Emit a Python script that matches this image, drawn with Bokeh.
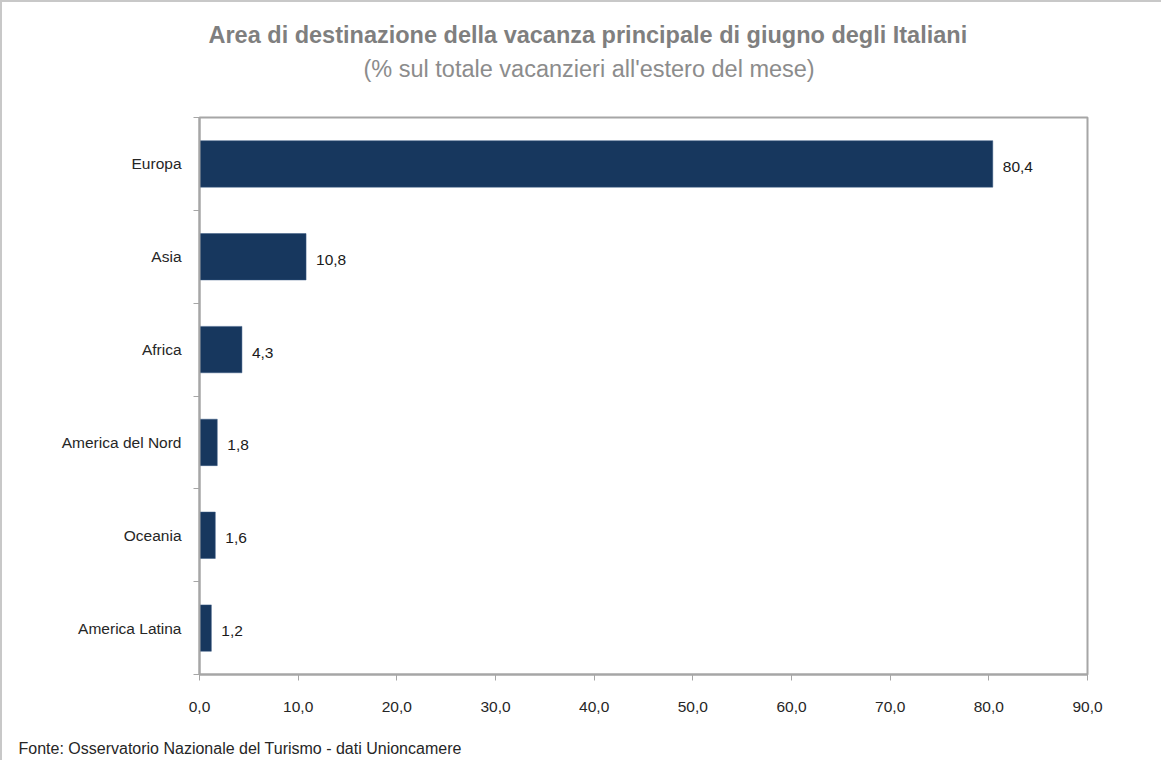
from bokeh.plotting import figure
from bokeh.models import Range1d, FixedTicker, Title, ColumnDataSource
from bokeh.embed import file_html
from bokeh.resources import INLINE

# ---- data ----
categories = ["Europa", "Asia", "Africa", "America del Nord", "Oceania", "America Latina"]
values = [80.4, 10.8, 4.3, 1.8, 1.6, 1.2]
value_labels = ["80,4", "10,8", "4,3", "1,8", "1,6", "1,2"]
x_ticks = [0, 10, 20, 30, 40, 50, 60, 70, 80, 90]
x_tick_labels = ["0,0", "10,0", "20,0", "30,0", "40,0", "50,0", "60,0", "70,0", "80,0", "90,0"]
title_text = "Area di destinazione della vacanza principale di giugno degli Italiani"
subtitle_text = "(% sul totale vacanzieri all'estero del mese)"
source_text = "Fonte: Osservatorio Nazionale del Turismo  - dati Unioncamere"

n = len(categories)
ypos = [n - 0.5 - i for i in range(n)]

src = ColumnDataSource(dict(cat=categories, val=values, lab=value_labels, y=ypos))

GRAY = "#A6A6A6"
TXT = "#262626"
FONT = "Liberation Sans"

p = figure(width=1161, height=760, output_backend="svg", toolbar_location=None,
           x_range=Range1d(0, 90), y_range=Range1d(0, n),
           min_border_left=197, min_border_right=76, min_border_top=115, min_border_bottom=85,
           background_fill_color="white", border_fill_color="white")
p.grid.visible = False
p.outline_line_color = GRAY
p.outline_line_width = 2

p.hbar(y="y", right="val", left=0, height=0.5, source=src,
       fill_color="#17375E", line_color="#3A5A85", line_width=0.5)
p.text(x="val", y="y", text="lab", source=src, x_offset=10, y_offset=3,
       text_baseline="middle", text_align="left", text_font_size="15.5px",
       text_color="#1a1a1a", text_font={"value": FONT})

# x axis
xa = p.xaxis[0]
xa.ticker = FixedTicker(ticks=x_ticks, minor_ticks=[])
xa.major_label_overrides = {t: l for t, l in zip(x_ticks, x_tick_labels)}
xa.axis_line_color = GRAY
xa.axis_line_width = 2
xa.major_tick_line_color = GRAY
xa.major_tick_out = 6
xa.major_tick_in = 0
xa.minor_tick_line_color = None
xa.major_label_standoff = 21
xa.major_label_text_font = FONT
xa.major_label_text_font_size = "15.5px"
xa.major_label_text_color = TXT

# y axis
ya = p.yaxis[0]
ya.ticker = FixedTicker(ticks=ypos, minor_ticks=list(range(n + 1)))
ya.major_label_overrides = {y: c for y, c in zip(ypos, categories)}
ya.axis_line_color = GRAY
ya.axis_line_width = 2
ya.major_tick_line_color = None
ya.major_tick_out = 0
ya.major_tick_in = 0
ya.minor_tick_line_color = GRAY
ya.minor_tick_out = 6
ya.minor_tick_in = 0
ya.major_label_standoff = 12
ya.major_label_text_font = FONT
ya.major_label_text_font_size = "15.5px"
ya.major_label_text_color = TXT

# titles (stacked outward from the frame)
p.add_layout(Title(text=" ", text_font_size="1px", standoff=32), "above")
p.add_layout(Title(text=subtitle_text, align="left", offset=164, standoff=2,
                   text_font=FONT, text_font_size="23.5px", text_font_style="normal",
                   text_color="#8C8C8C"), "above")
p.add_layout(Title(text=title_text, align="left", offset=9, standoff=9,
                   text_font=FONT, text_font_size="23.5px", text_font_style="bold",
                   text_color="#7F7F7F"), "above")
p.add_layout(Title(text=" ", text_font_size="1px", standoff=15), "below")
p.add_layout(Title(text=source_text, align="left", offset=-181, standoff=11,
                   text_font=FONT, text_font_size="16px", text_font_style="normal",
                   text_color=TXT), "below")

p.styles = {"border-top": "2px solid #C8C8C8", "border-left": "2px solid #C8C8C8"}

open("out.html", "w").write(file_html(p, INLINE))
